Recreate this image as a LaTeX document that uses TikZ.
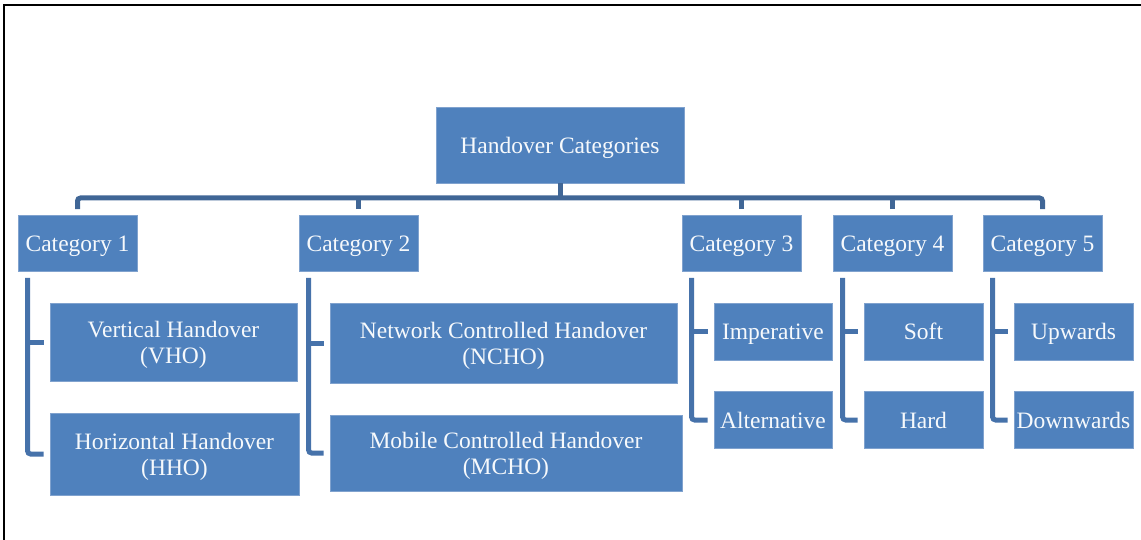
\documentclass[tikz,border=0pt]{standalone}
\usepackage{fontspec}
\setmainfont{Liberation Serif}
% box caption: centred lines, set a little below the box's middle
\newcommand\boxtext[1]{\raisebox{-3pt}[\height][\depth]{\begin{tabular}{@{}c@{}}#1\end{tabular}}}
\begin{document}
\begin{tikzpicture}[x=1pt,y=-1pt,
  box/.style={fill=boxblue,draw=boxedge,line width=0.8pt,inner sep=0pt,
    text=boxtext,font=\fontsize{23.5}{26}\selectfont},
  bus/.style={draw=busblue,line width=5pt,rounded corners=3pt},
  bracket/.style={draw=brkblue,line width=5pt,rounded corners=3pt}]
\definecolor{boxblue}{RGB}{79,129,189}
\definecolor{boxedge}{RGB}{128,162,206}
\definecolor{boxtext}{RGB}{246,249,252}
\definecolor{busblue}{RGB}{64,102,150}
\definecolor{brkblue}{RGB}{70,114,170}
\useasboundingbox (0,0) rectangle (1141,540);
% page frame
\draw[line width=2pt,black] (4,540) -- (4,5) -- (1141,5);

% root
\node[box,minimum width=248pt,minimum height=76pt] (root) at (560,145) {\boxtext{Handover Categories}};

% categories
\foreach \n/\cx/\t in {c1/77.5/Category 1,c2/358.5/Category 2,c3/741.5/Category 3,c4/892.5/Category 4,c5/1042.5/Category 5}
  \node[box,minimum width=119pt,minimum height=56pt] (\n) at (\cx,243.5) {\boxtext{\t}};

% leaves
\node[box,minimum width=247pt,minimum height=78pt] (vho) at (173.5,342) {\boxtext{Vertical Handover\\(VHO)}};
\node[box,minimum width=249pt,minimum height=82pt] (hho) at (174.5,454) {\boxtext{Horizontal Handover\\(HHO)}};
\node[box,minimum width=347pt,minimum height=80pt] (ncho) at (503.5,343) {\boxtext{Network Controlled Handover\\(NCHO)}};
\node[box,minimum width=352pt,minimum height=76pt] (mcho) at (506,453) {\boxtext{Mobile Controlled Handover\\(MCHO)}};
\node[box,minimum width=118pt,minimum height=57pt] (imp) at (773,331.5) {\boxtext{Imperative}};
\node[box,minimum width=118pt,minimum height=57pt] (alt) at (773,420) {\boxtext{Alternative}};
\node[box,minimum width=119pt,minimum height=57pt] (soft) at (923.5,331.5) {\boxtext{Soft}};
\node[box,minimum width=119pt,minimum height=57pt] (hard) at (923.5,420) {\boxtext{Hard}};
\node[box,minimum width=119pt,minimum height=57pt] (up) at (1073.5,331.5) {\boxtext{Upwards}};
\node[box,minimum width=119pt,minimum height=57pt] (down) at (1073.5,420) {\boxtext{Downwards}};

% bus from the root to the categories
\coordinate (busy) at (0,198);
\draw[bus] ([yshift=6pt]c1.north) -- (c1.north |- busy) -- (c5.north |- busy) -- ([yshift=6pt]c5.north);
\draw[bus] (root.south) -- (root.south |- busy);
\foreach \n in {c2,c3,c4}
  \draw[bus] ([yshift=6pt]\n.north) -- (\n.north |- busy);

% brackets from each category to its leaves
\foreach \c/\a/\b in {c1/vho/hho,c2/ncho/mcho,c3/imp/alt,c4/soft/hard,c5/up/down}{
  \coordinate (\c k) at ([xshift=10pt,yshift=-6pt]\c.south west);
  \draw[bracket] (\c k) |- ([xshift=-6pt]\b.west);
  \draw[bracket] (\c k |- \a.west) -- ([xshift=-6pt]\a.west);
}
\end{tikzpicture}
\end{document}
